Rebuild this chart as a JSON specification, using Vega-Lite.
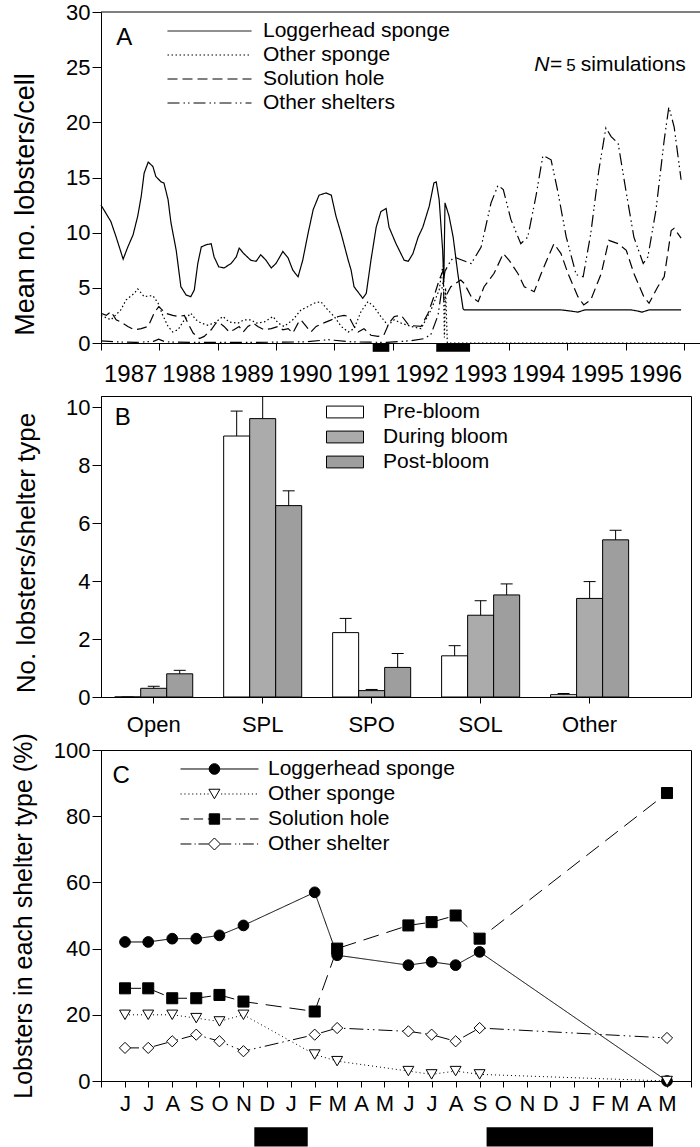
{
  "$schema": "https://vega.github.io/schema/vega-lite/v6.json",
  "background": "white",
  "padding": {"left": 10, "top": 1, "right": 0, "bottom": 0},
  "spacing": 53,
  "bounds": "flush",
  "resolve": {
    "scale": {"strokeDash": "independent", "fill": "independent", "shape": "independent", "size": "independent", "stroke": "independent"},
    "legend": {"strokeDash": "independent", "fill": "independent", "shape": "independent", "size": "independent", "stroke": "independent"}
  },
  "config": {
    "font": "Liberation Sans",
    "view": {"stroke": "black", "strokeWidth": 1},
    "axis": {
      "domainColor": "black", "domainWidth": 1, "tickColor": "black", "tickWidth": 1,
      "labelColor": "black", "titleColor": "black", "labelFont": "Liberation Sans", "titleFont": "Liberation Sans",
      "labelFontSize": 22, "titleFontWeight": "normal", "grid": false, "labelOverlap": false, "labelBound": false, "titleLimit": 1000
    },
    "legend": {"labelFont": "Liberation Sans", "labelColor": "black", "labelFontSize": 21, "labelLimit": 400, "padding": 0, "rowPadding": 0},
    "text": {"font": "Liberation Sans", "color": "black"}
  },
  "datasets": {
    "simulation": [
      {"year": 1987.00, "mean": 12.5, "shelter": "Loggerhead sponge"},
      {"year": 1987.08, "mean": 11.8, "shelter": "Loggerhead sponge"},
      {"year": 1987.17, "mean": 11.0, "shelter": "Loggerhead sponge"},
      {"year": 1987.26, "mean": 9.6, "shelter": "Loggerhead sponge"},
      {"year": 1987.38, "mean": 7.6, "shelter": "Loggerhead sponge"},
      {"year": 1987.46, "mean": 8.7, "shelter": "Loggerhead sponge"},
      {"year": 1987.55, "mean": 9.8, "shelter": "Loggerhead sponge"},
      {"year": 1987.63, "mean": 11.5, "shelter": "Loggerhead sponge"},
      {"year": 1987.69, "mean": 13.3, "shelter": "Loggerhead sponge"},
      {"year": 1987.74, "mean": 15.4, "shelter": "Loggerhead sponge"},
      {"year": 1987.81, "mean": 16.4, "shelter": "Loggerhead sponge"},
      {"year": 1987.89, "mean": 16.0, "shelter": "Loggerhead sponge"},
      {"year": 1987.94, "mean": 15.1, "shelter": "Loggerhead sponge"},
      {"year": 1988.03, "mean": 14.6, "shelter": "Loggerhead sponge"},
      {"year": 1988.08, "mean": 14.5, "shelter": "Loggerhead sponge"},
      {"year": 1988.15, "mean": 13.0, "shelter": "Loggerhead sponge"},
      {"year": 1988.20, "mean": 10.9, "shelter": "Loggerhead sponge"},
      {"year": 1988.29, "mean": 8.4, "shelter": "Loggerhead sponge"},
      {"year": 1988.37, "mean": 5.1, "shelter": "Loggerhead sponge"},
      {"year": 1988.46, "mean": 4.35, "shelter": "Loggerhead sponge"},
      {"year": 1988.54, "mean": 4.2, "shelter": "Loggerhead sponge"},
      {"year": 1988.60, "mean": 4.8, "shelter": "Loggerhead sponge"},
      {"year": 1988.66, "mean": 7.2, "shelter": "Loggerhead sponge"},
      {"year": 1988.72, "mean": 8.7, "shelter": "Loggerhead sponge"},
      {"year": 1988.80, "mean": 8.9, "shelter": "Loggerhead sponge"},
      {"year": 1988.89, "mean": 9.0, "shelter": "Loggerhead sponge"},
      {"year": 1988.94, "mean": 7.8, "shelter": "Loggerhead sponge"},
      {"year": 1989.02, "mean": 6.9, "shelter": "Loggerhead sponge"},
      {"year": 1989.11, "mean": 6.8, "shelter": "Loggerhead sponge"},
      {"year": 1989.23, "mean": 7.2, "shelter": "Loggerhead sponge"},
      {"year": 1989.32, "mean": 7.8, "shelter": "Loggerhead sponge"},
      {"year": 1989.37, "mean": 8.6, "shelter": "Loggerhead sponge"},
      {"year": 1989.45, "mean": 8.1, "shelter": "Loggerhead sponge"},
      {"year": 1989.57, "mean": 7.5, "shelter": "Loggerhead sponge"},
      {"year": 1989.66, "mean": 7.4, "shelter": "Loggerhead sponge"},
      {"year": 1989.74, "mean": 8.0, "shelter": "Loggerhead sponge"},
      {"year": 1989.83, "mean": 7.5, "shelter": "Loggerhead sponge"},
      {"year": 1989.92, "mean": 6.8, "shelter": "Loggerhead sponge"},
      {"year": 1990.00, "mean": 7.2, "shelter": "Loggerhead sponge"},
      {"year": 1990.12, "mean": 8.3, "shelter": "Loggerhead sponge"},
      {"year": 1990.21, "mean": 7.7, "shelter": "Loggerhead sponge"},
      {"year": 1990.29, "mean": 6.6, "shelter": "Loggerhead sponge"},
      {"year": 1990.38, "mean": 6.0, "shelter": "Loggerhead sponge"},
      {"year": 1990.46, "mean": 7.5, "shelter": "Loggerhead sponge"},
      {"year": 1990.55, "mean": 9.9, "shelter": "Loggerhead sponge"},
      {"year": 1990.64, "mean": 12.1, "shelter": "Loggerhead sponge"},
      {"year": 1990.74, "mean": 13.4, "shelter": "Loggerhead sponge"},
      {"year": 1990.86, "mean": 13.6, "shelter": "Loggerhead sponge"},
      {"year": 1990.95, "mean": 13.4, "shelter": "Loggerhead sponge"},
      {"year": 1991.03, "mean": 11.5, "shelter": "Loggerhead sponge"},
      {"year": 1991.12, "mean": 9.9, "shelter": "Loggerhead sponge"},
      {"year": 1991.24, "mean": 7.5, "shelter": "Loggerhead sponge"},
      {"year": 1991.29, "mean": 6.6, "shelter": "Loggerhead sponge"},
      {"year": 1991.34, "mean": 5.1, "shelter": "Loggerhead sponge"},
      {"year": 1991.49, "mean": 4.05, "shelter": "Loggerhead sponge"},
      {"year": 1991.55, "mean": 4.5, "shelter": "Loggerhead sponge"},
      {"year": 1991.63, "mean": 7.5, "shelter": "Loggerhead sponge"},
      {"year": 1991.72, "mean": 10.5, "shelter": "Loggerhead sponge"},
      {"year": 1991.80, "mean": 11.9, "shelter": "Loggerhead sponge"},
      {"year": 1991.89, "mean": 12.2, "shelter": "Loggerhead sponge"},
      {"year": 1991.94, "mean": 10.5, "shelter": "Loggerhead sponge"},
      {"year": 1992.06, "mean": 9.0, "shelter": "Loggerhead sponge"},
      {"year": 1992.20, "mean": 7.5, "shelter": "Loggerhead sponge"},
      {"year": 1992.27, "mean": 7.4, "shelter": "Loggerhead sponge"},
      {"year": 1992.35, "mean": 8.1, "shelter": "Loggerhead sponge"},
      {"year": 1992.44, "mean": 9.6, "shelter": "Loggerhead sponge"},
      {"year": 1992.52, "mean": 10.5, "shelter": "Loggerhead sponge"},
      {"year": 1992.63, "mean": 12.4, "shelter": "Loggerhead sponge"},
      {"year": 1992.71, "mean": 14.5, "shelter": "Loggerhead sponge"},
      {"year": 1992.75, "mean": 14.6, "shelter": "Loggerhead sponge"},
      {"year": 1992.80, "mean": 13.0, "shelter": "Loggerhead sponge"},
      {"year": 1992.86, "mean": 8.4, "shelter": "Loggerhead sponge"},
      {"year": 1992.88, "mean": 5.5, "shelter": "Loggerhead sponge"},
      {"year": 1992.90, "mean": 12.7, "shelter": "Loggerhead sponge"},
      {"year": 1992.97, "mean": 11.5, "shelter": "Loggerhead sponge"},
      {"year": 1993.04, "mean": 9.6, "shelter": "Loggerhead sponge"},
      {"year": 1993.12, "mean": 6.3, "shelter": "Loggerhead sponge"},
      {"year": 1993.21, "mean": 3.1, "shelter": "Loggerhead sponge"},
      {"year": 1993.23, "mean": 3.0, "shelter": "Loggerhead sponge"},
      {"year": 1993.52, "mean": 3.0, "shelter": "Loggerhead sponge"},
      {"year": 1994.20, "mean": 3.0, "shelter": "Loggerhead sponge"},
      {"year": 1994.89, "mean": 3.0, "shelter": "Loggerhead sponge"},
      {"year": 1995.05, "mean": 2.9, "shelter": "Loggerhead sponge"},
      {"year": 1995.18, "mean": 2.8, "shelter": "Loggerhead sponge"},
      {"year": 1995.30, "mean": 3.0, "shelter": "Loggerhead sponge"},
      {"year": 1995.58, "mean": 3.0, "shelter": "Loggerhead sponge"},
      {"year": 1996.09, "mean": 3.0, "shelter": "Loggerhead sponge"},
      {"year": 1996.20, "mean": 2.9, "shelter": "Loggerhead sponge"},
      {"year": 1996.28, "mean": 2.8, "shelter": "Loggerhead sponge"},
      {"year": 1996.40, "mean": 3.0, "shelter": "Loggerhead sponge"},
      {"year": 1996.95, "mean": 3.0, "shelter": "Loggerhead sponge"},

      {"year": 1987.00, "mean": 2.5, "shelter": "Other sponge"},
      {"year": 1987.17, "mean": 2.1, "shelter": "Other sponge"},
      {"year": 1987.34, "mean": 3.0, "shelter": "Other sponge"},
      {"year": 1987.43, "mean": 3.9, "shelter": "Other sponge"},
      {"year": 1987.57, "mean": 4.5, "shelter": "Other sponge"},
      {"year": 1987.63, "mean": 4.9, "shelter": "Other sponge"},
      {"year": 1987.74, "mean": 4.2, "shelter": "Other sponge"},
      {"year": 1987.89, "mean": 4.3, "shelter": "Other sponge"},
      {"year": 1987.98, "mean": 3.6, "shelter": "Other sponge"},
      {"year": 1988.06, "mean": 2.5, "shelter": "Other sponge"},
      {"year": 1988.15, "mean": 1.5, "shelter": "Other sponge"},
      {"year": 1988.23, "mean": 1.0, "shelter": "Other sponge"},
      {"year": 1988.32, "mean": 1.2, "shelter": "Other sponge"},
      {"year": 1988.43, "mean": 2.1, "shelter": "Other sponge"},
      {"year": 1988.54, "mean": 2.7, "shelter": "Other sponge"},
      {"year": 1988.63, "mean": 2.1, "shelter": "Other sponge"},
      {"year": 1988.72, "mean": 1.8, "shelter": "Other sponge"},
      {"year": 1988.84, "mean": 1.6, "shelter": "Other sponge"},
      {"year": 1988.97, "mean": 1.9, "shelter": "Other sponge"},
      {"year": 1989.09, "mean": 2.4, "shelter": "Other sponge"},
      {"year": 1989.20, "mean": 1.9, "shelter": "Other sponge"},
      {"year": 1989.35, "mean": 1.8, "shelter": "Other sponge"},
      {"year": 1989.45, "mean": 2.1, "shelter": "Other sponge"},
      {"year": 1989.57, "mean": 2.1, "shelter": "Other sponge"},
      {"year": 1989.66, "mean": 1.8, "shelter": "Other sponge"},
      {"year": 1989.80, "mean": 1.9, "shelter": "Other sponge"},
      {"year": 1989.95, "mean": 2.4, "shelter": "Other sponge"},
      {"year": 1990.04, "mean": 1.8, "shelter": "Other sponge"},
      {"year": 1990.14, "mean": 1.5, "shelter": "Other sponge"},
      {"year": 1990.29, "mean": 2.1, "shelter": "Other sponge"},
      {"year": 1990.43, "mean": 3.0, "shelter": "Other sponge"},
      {"year": 1990.55, "mean": 3.3, "shelter": "Other sponge"},
      {"year": 1990.65, "mean": 3.6, "shelter": "Other sponge"},
      {"year": 1990.77, "mean": 3.75, "shelter": "Other sponge"},
      {"year": 1990.89, "mean": 3.0, "shelter": "Other sponge"},
      {"year": 1991.00, "mean": 2.4, "shelter": "Other sponge"},
      {"year": 1991.12, "mean": 1.5, "shelter": "Other sponge"},
      {"year": 1991.24, "mean": 1.0, "shelter": "Other sponge"},
      {"year": 1991.34, "mean": 1.3, "shelter": "Other sponge"},
      {"year": 1991.46, "mean": 2.85, "shelter": "Other sponge"},
      {"year": 1991.58, "mean": 3.75, "shelter": "Other sponge"},
      {"year": 1991.68, "mean": 3.3, "shelter": "Other sponge"},
      {"year": 1991.80, "mean": 2.4, "shelter": "Other sponge"},
      {"year": 1991.92, "mean": 1.6, "shelter": "Other sponge"},
      {"year": 1992.03, "mean": 2.1, "shelter": "Other sponge"},
      {"year": 1992.15, "mean": 1.8, "shelter": "Other sponge"},
      {"year": 1992.32, "mean": 1.5, "shelter": "Other sponge"},
      {"year": 1992.49, "mean": 1.3, "shelter": "Other sponge"},
      {"year": 1992.66, "mean": 3.0, "shelter": "Other sponge"},
      {"year": 1992.80, "mean": 4.8, "shelter": "Other sponge"},
      {"year": 1992.85, "mean": 6.6, "shelter": "Other sponge"},
      {"year": 1992.87, "mean": 7.0, "shelter": "Other sponge"},
      {"year": 1992.89, "mean": 0.5, "shelter": "Other sponge"},
      {"year": 1992.91, "mean": 5.0, "shelter": "Other sponge"},
      {"year": 1992.94, "mean": 0.0, "shelter": "Other sponge"},
      {"year": 1993.20, "mean": 0.0, "shelter": "Other sponge"},
      {"year": 1996.95, "mean": 0.0, "shelter": "Other sponge"},

      {"year": 1987.00, "mean": 2.7, "shelter": "Solution hole"},
      {"year": 1987.09, "mean": 2.5, "shelter": "Solution hole"},
      {"year": 1987.17, "mean": 2.85, "shelter": "Solution hole"},
      {"year": 1987.26, "mean": 2.1, "shelter": "Solution hole"},
      {"year": 1987.34, "mean": 1.9, "shelter": "Solution hole"},
      {"year": 1987.46, "mean": 1.5, "shelter": "Solution hole"},
      {"year": 1987.57, "mean": 1.2, "shelter": "Solution hole"},
      {"year": 1987.69, "mean": 1.3, "shelter": "Solution hole"},
      {"year": 1987.81, "mean": 1.5, "shelter": "Solution hole"},
      {"year": 1987.91, "mean": 2.7, "shelter": "Solution hole"},
      {"year": 1987.99, "mean": 3.3, "shelter": "Solution hole"},
      {"year": 1988.11, "mean": 2.7, "shelter": "Solution hole"},
      {"year": 1988.23, "mean": 2.5, "shelter": "Solution hole"},
      {"year": 1988.34, "mean": 2.4, "shelter": "Solution hole"},
      {"year": 1988.43, "mean": 2.5, "shelter": "Solution hole"},
      {"year": 1988.49, "mean": 1.8, "shelter": "Solution hole"},
      {"year": 1988.58, "mean": 0.9, "shelter": "Solution hole"},
      {"year": 1988.69, "mean": 0.4, "shelter": "Solution hole"},
      {"year": 1988.77, "mean": 0.6, "shelter": "Solution hole"},
      {"year": 1988.89, "mean": 1.2, "shelter": "Solution hole"},
      {"year": 1988.97, "mean": 1.8, "shelter": "Solution hole"},
      {"year": 1989.02, "mean": 1.9, "shelter": "Solution hole"},
      {"year": 1989.11, "mean": 1.5, "shelter": "Solution hole"},
      {"year": 1989.20, "mean": 1.0, "shelter": "Solution hole"},
      {"year": 1989.28, "mean": 1.2, "shelter": "Solution hole"},
      {"year": 1989.37, "mean": 1.5, "shelter": "Solution hole"},
      {"year": 1989.44, "mean": 1.0, "shelter": "Solution hole"},
      {"year": 1989.52, "mean": 1.5, "shelter": "Solution hole"},
      {"year": 1989.61, "mean": 1.8, "shelter": "Solution hole"},
      {"year": 1989.69, "mean": 1.5, "shelter": "Solution hole"},
      {"year": 1989.80, "mean": 1.2, "shelter": "Solution hole"},
      {"year": 1989.92, "mean": 1.3, "shelter": "Solution hole"},
      {"year": 1990.04, "mean": 1.5, "shelter": "Solution hole"},
      {"year": 1990.12, "mean": 1.2, "shelter": "Solution hole"},
      {"year": 1990.21, "mean": 1.3, "shelter": "Solution hole"},
      {"year": 1990.29, "mean": 0.9, "shelter": "Solution hole"},
      {"year": 1990.38, "mean": 1.8, "shelter": "Solution hole"},
      {"year": 1990.43, "mean": 2.1, "shelter": "Solution hole"},
      {"year": 1990.52, "mean": 1.5, "shelter": "Solution hole"},
      {"year": 1990.60, "mean": 1.0, "shelter": "Solution hole"},
      {"year": 1990.69, "mean": 1.5, "shelter": "Solution hole"},
      {"year": 1990.81, "mean": 1.8, "shelter": "Solution hole"},
      {"year": 1990.95, "mean": 2.1, "shelter": "Solution hole"},
      {"year": 1991.07, "mean": 2.4, "shelter": "Solution hole"},
      {"year": 1991.17, "mean": 2.5, "shelter": "Solution hole"},
      {"year": 1991.25, "mean": 2.4, "shelter": "Solution hole"},
      {"year": 1991.34, "mean": 1.5, "shelter": "Solution hole"},
      {"year": 1991.41, "mean": 1.0, "shelter": "Solution hole"},
      {"year": 1991.51, "mean": 1.3, "shelter": "Solution hole"},
      {"year": 1991.63, "mean": 0.7, "shelter": "Solution hole"},
      {"year": 1991.75, "mean": 0.6, "shelter": "Solution hole"},
      {"year": 1991.85, "mean": 0.7, "shelter": "Solution hole"},
      {"year": 1991.94, "mean": 1.8, "shelter": "Solution hole"},
      {"year": 1992.03, "mean": 2.4, "shelter": "Solution hole"},
      {"year": 1992.15, "mean": 2.5, "shelter": "Solution hole"},
      {"year": 1992.28, "mean": 1.6, "shelter": "Solution hole"},
      {"year": 1992.49, "mean": 1.5, "shelter": "Solution hole"},
      {"year": 1992.61, "mean": 2.7, "shelter": "Solution hole"},
      {"year": 1992.71, "mean": 4.2, "shelter": "Solution hole"},
      {"year": 1992.80, "mean": 5.7, "shelter": "Solution hole"},
      {"year": 1992.87, "mean": 6.6, "shelter": "Solution hole"},
      {"year": 1992.88, "mean": 3.9, "shelter": "Solution hole"},
      {"year": 1993.00, "mean": 5.1, "shelter": "Solution hole"},
      {"year": 1993.17, "mean": 5.7, "shelter": "Solution hole"},
      {"year": 1993.23, "mean": 5.4, "shelter": "Solution hole"},
      {"year": 1993.35, "mean": 4.2, "shelter": "Solution hole"},
      {"year": 1993.47, "mean": 3.75, "shelter": "Solution hole"},
      {"year": 1993.57, "mean": 5.1, "shelter": "Solution hole"},
      {"year": 1993.74, "mean": 6.3, "shelter": "Solution hole"},
      {"year": 1993.90, "mean": 8.1, "shelter": "Solution hole"},
      {"year": 1994.00, "mean": 7.5, "shelter": "Solution hole"},
      {"year": 1994.15, "mean": 6.3, "shelter": "Solution hole"},
      {"year": 1994.26, "mean": 5.1, "shelter": "Solution hole"},
      {"year": 1994.43, "mean": 4.65, "shelter": "Solution hole"},
      {"year": 1994.55, "mean": 6.3, "shelter": "Solution hole"},
      {"year": 1994.67, "mean": 7.8, "shelter": "Solution hole"},
      {"year": 1994.77, "mean": 9.0, "shelter": "Solution hole"},
      {"year": 1994.89, "mean": 8.1, "shelter": "Solution hole"},
      {"year": 1995.01, "mean": 6.3, "shelter": "Solution hole"},
      {"year": 1995.18, "mean": 4.2, "shelter": "Solution hole"},
      {"year": 1995.28, "mean": 3.45, "shelter": "Solution hole"},
      {"year": 1995.40, "mean": 3.9, "shelter": "Solution hole"},
      {"year": 1995.58, "mean": 6.3, "shelter": "Solution hole"},
      {"year": 1995.71, "mean": 9.3, "shelter": "Solution hole"},
      {"year": 1995.87, "mean": 9.0, "shelter": "Solution hole"},
      {"year": 1996.01, "mean": 8.4, "shelter": "Solution hole"},
      {"year": 1996.14, "mean": 6.3, "shelter": "Solution hole"},
      {"year": 1996.31, "mean": 4.2, "shelter": "Solution hole"},
      {"year": 1996.40, "mean": 3.6, "shelter": "Solution hole"},
      {"year": 1996.55, "mean": 5.1, "shelter": "Solution hole"},
      {"year": 1996.66, "mean": 6.0, "shelter": "Solution hole"},
      {"year": 1996.78, "mean": 10.2, "shelter": "Solution hole"},
      {"year": 1996.83, "mean": 10.4, "shelter": "Solution hole"},
      {"year": 1996.95, "mean": 9.5, "shelter": "Solution hole"},

      {"year": 1987.00, "mean": 0.2, "shelter": "Other shelters"},
      {"year": 1987.30, "mean": 0.1, "shelter": "Other shelters"},
      {"year": 1987.60, "mean": 0.05, "shelter": "Other shelters"},
      {"year": 1987.90, "mean": 0.15, "shelter": "Other shelters"},
      {"year": 1987.99, "mean": 0.35, "shelter": "Other shelters"},
      {"year": 1988.10, "mean": 0.1, "shelter": "Other shelters"},
      {"year": 1988.60, "mean": 0.05, "shelter": "Other shelters"},
      {"year": 1989.50, "mean": 0.05, "shelter": "Other shelters"},
      {"year": 1990.50, "mean": 0.1, "shelter": "Other shelters"},
      {"year": 1990.90, "mean": 0.3, "shelter": "Other shelters"},
      {"year": 1991.00, "mean": 0.25, "shelter": "Other shelters"},
      {"year": 1991.30, "mean": 0.1, "shelter": "Other shelters"},
      {"year": 1991.90, "mean": 0.05, "shelter": "Other shelters"},
      {"year": 1992.30, "mean": 0.2, "shelter": "Other shelters"},
      {"year": 1992.55, "mean": 0.4, "shelter": "Other shelters"},
      {"year": 1992.66, "mean": 0.8, "shelter": "Other shelters"},
      {"year": 1992.78, "mean": 2.5, "shelter": "Other shelters"},
      {"year": 1992.85, "mean": 5.0, "shelter": "Other shelters"},
      {"year": 1992.90, "mean": 6.5, "shelter": "Other shelters"},
      {"year": 1992.97, "mean": 7.2, "shelter": "Other shelters"},
      {"year": 1993.05, "mean": 7.8, "shelter": "Other shelters"},
      {"year": 1993.35, "mean": 7.2, "shelter": "Other shelters"},
      {"year": 1993.52, "mean": 8.7, "shelter": "Other shelters"},
      {"year": 1993.69, "mean": 12.7, "shelter": "Other shelters"},
      {"year": 1993.81, "mean": 14.3, "shelter": "Other shelters"},
      {"year": 1993.90, "mean": 13.9, "shelter": "Other shelters"},
      {"year": 1994.03, "mean": 11.2, "shelter": "Other shelters"},
      {"year": 1994.20, "mean": 9.0, "shelter": "Other shelters"},
      {"year": 1994.32, "mean": 9.6, "shelter": "Other shelters"},
      {"year": 1994.46, "mean": 13.3, "shelter": "Other shelters"},
      {"year": 1994.58, "mean": 17.0, "shelter": "Other shelters"},
      {"year": 1994.72, "mean": 16.6, "shelter": "Other shelters"},
      {"year": 1994.84, "mean": 13.6, "shelter": "Other shelters"},
      {"year": 1994.98, "mean": 9.6, "shelter": "Other shelters"},
      {"year": 1995.15, "mean": 6.2, "shelter": "Other shelters"},
      {"year": 1995.27, "mean": 6.0, "shelter": "Other shelters"},
      {"year": 1995.40, "mean": 9.9, "shelter": "Other shelters"},
      {"year": 1995.54, "mean": 15.7, "shelter": "Other shelters"},
      {"year": 1995.66, "mean": 19.5, "shelter": "Other shelters"},
      {"year": 1995.75, "mean": 18.7, "shelter": "Other shelters"},
      {"year": 1995.87, "mean": 18.1, "shelter": "Other shelters"},
      {"year": 1996.01, "mean": 13.6, "shelter": "Other shelters"},
      {"year": 1996.14, "mean": 9.6, "shelter": "Other shelters"},
      {"year": 1996.30, "mean": 7.2, "shelter": "Other shelters"},
      {"year": 1996.38, "mean": 7.8, "shelter": "Other shelters"},
      {"year": 1996.52, "mean": 12.1, "shelter": "Other shelters"},
      {"year": 1996.66, "mean": 18.4, "shelter": "Other shelters"},
      {"year": 1996.74, "mean": 21.4, "shelter": "Other shelters"},
      {"year": 1996.83, "mean": 19.6, "shelter": "Other shelters"},
      {"year": 1996.95, "mean": 14.8, "shelter": "Other shelters"}
    ],
    "bloomA": [
      {"start": 1991.66, "end": 1991.945},
      {"start": 1992.75, "end": 1993.33}
    ],
    "shelterUse": [
      {"shelter": "Open", "period": "Pre-bloom", "mean": 0, "upper": 0},
      {"shelter": "Open", "period": "During bloom", "mean": 0.3, "upper": 0.37},
      {"shelter": "Open", "period": "Post-bloom", "mean": 0.8, "upper": 0.92},
      {"shelter": "SPL", "period": "Pre-bloom", "mean": 9.0, "upper": 9.86},
      {"shelter": "SPL", "period": "During bloom", "mean": 9.6, "upper": 10.7},
      {"shelter": "SPL", "period": "Post-bloom", "mean": 6.6, "upper": 7.11},
      {"shelter": "SPO", "period": "Pre-bloom", "mean": 2.22, "upper": 2.71},
      {"shelter": "SPO", "period": "During bloom", "mean": 0.22, "upper": 0.26},
      {"shelter": "SPO", "period": "Post-bloom", "mean": 1.02, "upper": 1.5},
      {"shelter": "SOL", "period": "Pre-bloom", "mean": 1.42, "upper": 1.77},
      {"shelter": "SOL", "period": "During bloom", "mean": 2.82, "upper": 3.32},
      {"shelter": "SOL", "period": "Post-bloom", "mean": 3.52, "upper": 3.9},
      {"shelter": "Other", "period": "Pre-bloom", "mean": 0.08, "upper": 0.12},
      {"shelter": "Other", "period": "During bloom", "mean": 3.4, "upper": 3.98},
      {"shelter": "Other", "period": "Post-bloom", "mean": 5.42, "upper": 5.75}
    ],
    "monthly": [
      {"month": "1991-06-01", "shelter": "Loggerhead sponge", "pct": 42},
      {"month": "1991-07-01", "shelter": "Loggerhead sponge", "pct": 42},
      {"month": "1991-08-01", "shelter": "Loggerhead sponge", "pct": 43},
      {"month": "1991-09-01", "shelter": "Loggerhead sponge", "pct": 43},
      {"month": "1991-10-01", "shelter": "Loggerhead sponge", "pct": 44},
      {"month": "1991-11-01", "shelter": "Loggerhead sponge", "pct": 47},
      {"month": "1992-02-01", "shelter": "Loggerhead sponge", "pct": 57},
      {"month": "1992-03-01", "shelter": "Loggerhead sponge", "pct": 38},
      {"month": "1992-06-01", "shelter": "Loggerhead sponge", "pct": 35},
      {"month": "1992-07-01", "shelter": "Loggerhead sponge", "pct": 36},
      {"month": "1992-08-01", "shelter": "Loggerhead sponge", "pct": 35},
      {"month": "1992-09-01", "shelter": "Loggerhead sponge", "pct": 39},
      {"month": "1993-05-01", "shelter": "Loggerhead sponge", "pct": 0},
      {"month": "1991-06-01", "shelter": "Other sponge", "pct": 20},
      {"month": "1991-07-01", "shelter": "Other sponge", "pct": 20},
      {"month": "1991-08-01", "shelter": "Other sponge", "pct": 20},
      {"month": "1991-09-01", "shelter": "Other sponge", "pct": 19},
      {"month": "1991-10-01", "shelter": "Other sponge", "pct": 18},
      {"month": "1991-11-01", "shelter": "Other sponge", "pct": 20},
      {"month": "1992-02-01", "shelter": "Other sponge", "pct": 8},
      {"month": "1992-03-01", "shelter": "Other sponge", "pct": 6},
      {"month": "1992-06-01", "shelter": "Other sponge", "pct": 3},
      {"month": "1992-07-01", "shelter": "Other sponge", "pct": 2},
      {"month": "1992-08-01", "shelter": "Other sponge", "pct": 3},
      {"month": "1992-09-01", "shelter": "Other sponge", "pct": 2},
      {"month": "1993-05-01", "shelter": "Other sponge", "pct": 0},
      {"month": "1991-06-01", "shelter": "Solution hole", "pct": 28},
      {"month": "1991-07-01", "shelter": "Solution hole", "pct": 28},
      {"month": "1991-08-01", "shelter": "Solution hole", "pct": 25},
      {"month": "1991-09-01", "shelter": "Solution hole", "pct": 25},
      {"month": "1991-10-01", "shelter": "Solution hole", "pct": 26},
      {"month": "1991-11-01", "shelter": "Solution hole", "pct": 24},
      {"month": "1992-02-01", "shelter": "Solution hole", "pct": 21},
      {"month": "1992-03-01", "shelter": "Solution hole", "pct": 40},
      {"month": "1992-06-01", "shelter": "Solution hole", "pct": 47},
      {"month": "1992-07-01", "shelter": "Solution hole", "pct": 48},
      {"month": "1992-08-01", "shelter": "Solution hole", "pct": 50},
      {"month": "1992-09-01", "shelter": "Solution hole", "pct": 43},
      {"month": "1993-05-01", "shelter": "Solution hole", "pct": 87},
      {"month": "1991-06-01", "shelter": "Other shelter", "pct": 10},
      {"month": "1991-07-01", "shelter": "Other shelter", "pct": 10},
      {"month": "1991-08-01", "shelter": "Other shelter", "pct": 12},
      {"month": "1991-09-01", "shelter": "Other shelter", "pct": 14},
      {"month": "1991-10-01", "shelter": "Other shelter", "pct": 12},
      {"month": "1991-11-01", "shelter": "Other shelter", "pct": 9},
      {"month": "1992-02-01", "shelter": "Other shelter", "pct": 14},
      {"month": "1992-03-01", "shelter": "Other shelter", "pct": 16},
      {"month": "1992-06-01", "shelter": "Other shelter", "pct": 15},
      {"month": "1992-07-01", "shelter": "Other shelter", "pct": 14},
      {"month": "1992-08-01", "shelter": "Other shelter", "pct": 12},
      {"month": "1992-09-01", "shelter": "Other shelter", "pct": 16},
      {"month": "1993-05-01", "shelter": "Other shelter", "pct": 13}
    ],
    "bloomC": [
      {"start": "1991-11-15", "end": "1992-01-23"},
      {"start": "1992-09-10", "end": "1993-04-13"}
    ]
  },
  "vconcat": [
    {
      "width": 599,
      "height": 331,
      "view": {"stroke": null},
      "layer": [
        {
          "data": {"name": "simulation"},
          "mark": {"type": "line", "color": "black", "strokeWidth": 1.2},
          "encoding": {
            "x": {
              "field": "year", "type": "quantitative",
              "scale": {"domain": [1987, 1997.274], "nice": false, "zero": false},
              "axis": {
                "title": null,
                "values": [1987, 1988, 1989, 1990, 1991, 1992, 1993, 1994, 1995, 1996, 1997],
                "labelExpr": "datum.value < 1997 ? format(datum.value, 'd') : ''",
                "labelOffset": 29.15, "labelFlush": false, "tickSize": 7, "labelFontSize": 24, "labelPadding": 12
              }
            },
            "y": {
              "field": "mean", "type": "quantitative",
              "scale": {"domain": [0, 30], "nice": false},
              "axis": {
                "title": "Mean no. lobsters/cell",
                "values": [0, 5, 10, 15, 20, 25, 30],
                "tickSize": 9, "labelPadding": 2,
                "titleFontSize": 27, "titleX": -68, "titleY": 192, "titleBaseline": "alphabetic"
              }
            },
            "strokeDash": {
              "field": "shelter", "type": "nominal",
              "sort": ["Loggerhead sponge", "Other sponge", "Solution hole", "Other shelters"],
              "scale": {
                "domain": ["Loggerhead sponge", "Other sponge", "Solution hole", "Other shelters"],
                "range": [[1, 0], [1.5, 2.5], [10, 5], [12, 4, 1.5, 3, 1.5, 4]]
              },
              "legend": {
                "orient": "none", "legendX": 66, "legendY": 7, "title": null,
                "symbolType": "stroke", "symbolSize": 7056, "symbolStrokeWidth": 1, "symbolStrokeColor": "black",
                "clipHeight": 24, "rowPadding": 0, "labelOffset": 11, "labelFontSize": 21, "padding": 0,
                "encode": {"symbols": {"update": {"stroke": {"value": "black"}, "strokeWidth": {"value": 1}}}}
              }
            }
          }
        },
        {
          "data": {"name": "bloomA"},
          "mark": {"type": "rect", "color": "black"},
          "encoding": {
            "x": {"field": "start", "type": "quantitative"},
            "x2": {"field": "end"},
            "y": {"datum": 0},
            "y2": {"datum": -0.8}
          }
        },
        {
          "data": {"values": [{}]},
          "mark": {"type": "rule", "color": "black", "strokeWidth": 1},
          "encoding": {"y": {"datum": 30}}
        },
        {
          "data": {"values": [{}]},
          "mark": {"type": "text", "text": "A", "fontSize": 24, "align": "left", "baseline": "alphabetic"},
          "encoding": {"x": {"datum": 1987.26}, "y": {"datum": 27.0}}
        },
        {
          "data": {"values": [{}]},
          "mark": {"type": "text", "text": "N", "fontSize": 21, "fontStyle": "italic", "align": "left", "baseline": "alphabetic"},
          "encoding": {"x": {"datum": 1994.43}, "y": {"datum": 24.66}}
        },
        {
          "data": {"values": [{}]},
          "mark": {"type": "text", "text": "=", "fontSize": 21, "align": "left", "baseline": "alphabetic"},
          "encoding": {"x": {"datum": 1994.70}, "y": {"datum": 24.66}}
        },
        {
          "data": {"values": [{}]},
          "mark": {"type": "text", "text": "5", "fontSize": 17, "align": "left", "baseline": "alphabetic"},
          "encoding": {"x": {"datum": 1994.98}, "y": {"datum": 24.66}}
        },
        {
          "data": {"values": [{}]},
          "mark": {"type": "text", "text": "simulations", "fontSize": 21, "align": "left", "baseline": "alphabetic"},
          "encoding": {"x": {"datum": 1995.23}, "y": {"datum": 24.66}}
        }
      ]
    },
    {
      "width": 590,
      "height": 301,
      "data": {"name": "shelterUse"},
      "layer": [
        {
          "mark": {"type": "bar", "stroke": "black", "strokeWidth": 1},
          "encoding": {
            "x": {
              "field": "shelter", "type": "nominal",
              "sort": ["Open", "SPL", "SPO", "SOL", "Other"],
              "scale": {"domain": ["Open", "SPL", "SPO", "SOL", "Other"], "paddingInner": 0.284, "paddingOuter": 0.349, "align": 0.18},
              "axis": {"title": null, "labelAngle": 0, "tickSize": 6, "labelPadding": 11}
            },
            "xOffset": {
              "field": "period", "type": "nominal",
              "sort": ["Pre-bloom", "During bloom", "Post-bloom"],
              "scale": {"domain": ["Pre-bloom", "During bloom", "Post-bloom"]}
            },
            "y": {
              "field": "mean", "type": "quantitative",
              "scale": {"domain": [0, 10.38], "nice": false},
              "axis": {
                "title": "No. lobsters/shelter type",
                "values": [0, 2, 4, 6, 8, 10],
                "tickSize": 9, "labelPadding": 2,
                "titleFontSize": 26, "titleX": -67, "titleY": 156.5, "titleBaseline": "alphabetic"
              }
            },
            "fill": {
              "field": "period", "type": "nominal",
              "sort": ["Pre-bloom", "During bloom", "Post-bloom"],
              "scale": {"domain": ["Pre-bloom", "During bloom", "Post-bloom"], "range": ["white", "#ababab", "#9e9e9e"]},
              "legend": {
                "orient": "none", "legendX": 225, "legendY": 3.5, "title": null,
                "symbolType": "M-1,-0.32H1V0.32H-1Z", "symbolSize": 1369,
                "symbolStrokeColor": "black", "symbolStrokeWidth": 1,
                "clipHeight": 25, "rowPadding": 0, "labelOffset": 19, "labelFontSize": 21, "padding": 0,
                "encode": {"symbols": {"update": {"stroke": {"value": "black"}, "strokeWidth": {"value": 1}, "opacity": {"value": 1}}}}
              }
            }
          }
        },
        {
          "mark": {"type": "rule", "color": "black", "strokeWidth": 1, "clip": true},
          "encoding": {
            "x": {"field": "shelter", "type": "nominal"},
            "xOffset": {"field": "period", "type": "nominal"},
            "y": {"field": "mean", "type": "quantitative"},
            "y2": {"field": "upper"}
          }
        },
        {
          "mark": {"type": "tick", "color": "black", "thickness": 1, "size": 12, "opacity": 1, "clip": true},
          "encoding": {
            "x": {"field": "shelter", "type": "nominal"},
            "xOffset": {"field": "period", "type": "nominal"},
            "y": {"field": "upper", "type": "quantitative"}
          }
        },
        {
          "data": {"values": [{}]},
          "mark": {"type": "text", "text": "B", "fontSize": 24, "align": "left", "baseline": "alphabetic"},
          "encoding": {"x": {"datum": "Open", "bandPosition": 0}, "y": {"datum": 9.38}}
        }
      ]
    },
    {
      "width": 590,
      "height": 331,
      "layer": [
        {
          "data": {"name": "bloomC"},
          "mark": {"type": "rect", "color": "black"},
          "encoding": {
            "x": {"field": "start", "type": "temporal"},
            "x2": {"field": "end"},
            "y": {"datum": -14},
            "y2": {"datum": -19.8}
          }
        },
        {
          "data": {"name": "monthly"},
          "mark": {"type": "line", "color": "black", "strokeWidth": 1},
          "encoding": {
            "x": {
              "field": "month", "type": "temporal",
              "scale": {"type": "utc", "domain": [{"year": 1991, "month": 5, "date": 1, "utc": true}, {"year": 1993, "month": 6, "date": 1, "utc": true}]},
              "axis": {
                "title": null,
                "tickCount": {"interval": "month", "step": 1},
                "labelExpr": "datum.value < utc(1991, 4, 20) || datum.value > utc(1993, 4, 20) ? '' : slice(utcFormat(datum.value, '%b'), 0, 1)",
                "labelFlush": false, "tickSize": 6, "labelPadding": 6
              }
            },
            "y": {
              "field": "pct", "type": "quantitative",
              "scale": {"domain": [0, 100], "nice": false},
              "axis": {
                "title": "Lobsters in each shelter type (%)",
                "values": [0, 20, 40, 60, 80, 100],
                "tickSize": 9, "labelPadding": 2,
                "titleFontSize": 25, "titleX": -70, "titleBaseline": "alphabetic"
              }
            },
            "strokeDash": {
              "field": "shelter", "type": "nominal",
              "scale": {
                "domain": ["Loggerhead sponge", "Other sponge", "Solution hole", "Other shelter"],
                "range": [[1, 0], [1, 3], [16, 8], [14, 4, 1.5, 4, 1.5, 4]]
              },
              "legend": null
            }
          }
        },
        {
          "data": {"name": "monthly"},
          "mark": {"type": "point", "filled": true, "stroke": "black", "strokeWidth": 1, "opacity": 1},
          "encoding": {
            "x": {"field": "month", "type": "temporal"},
            "y": {"field": "pct", "type": "quantitative"},
            "shape": {
              "field": "shelter", "type": "nominal",
              "scale": {"domain": ["Loggerhead sponge", "Other sponge", "Solution hole", "Other shelter"], "range": ["circle", "triangle-down", "square", "diamond"]},
              "legend": null
            },
            "fill": {
              "field": "shelter", "type": "nominal",
              "scale": {"domain": ["Loggerhead sponge", "Other sponge", "Solution hole", "Other shelter"], "range": ["black", "white", "black", "white"]},
              "legend": null
            },
            "size": {
              "field": "shelter", "type": "nominal",
              "scale": {"domain": ["Loggerhead sponge", "Other sponge", "Solution hole", "Other shelter"], "range": [115, 125, 110, 150]},
              "legend": null
            }
          }
        },
        {
          "data": {"name": "monthly"},
          "transform": [{"filter": "datum.pct < 0"}],
          "mark": {"type": "point", "filled": true, "strokeWidth": 1, "opacity": 1, "size": 6084},
          "encoding": {
            "x": {"field": "month", "type": "temporal"},
            "y": {"field": "pct", "type": "quantitative"},
            "shape": {
              "field": "shelter", "type": "nominal",
              "scale": {
                "domain": ["Loggerhead sponge", "Other sponge", "Solution hole", "Other shelter"],
                "range": [
                  "M-1,0H1M-0.266,0A0.136,0.136,0,1,1,0.006,0A0.136,0.136,0,1,1,-0.266,0Z",
                  "M-1,0h0.03M-0.9,0h0.03M-0.8,0h0.03M-0.7,0h0.03M-0.6,0h0.03M-0.5,0h0.03M-0.4,0h0.03M-0.31,0h0.03M0.04,0h0.03M0.13,0h0.03M0.23,0h0.03M0.33,0h0.03M0.43,0h0.03M0.53,0h0.03M0.63,0h0.03M0.73,0h0.03M0.83,0h0.03M0.93,0h0.03M-0.271,-0.122L0.011,-0.122L-0.13,0.122Z",
                  "M-1,0H-0.78M-0.66,0H-0.42M-0.3,0H-0.2M0.06,0H0.3M0.42,0H0.66M0.78,0H1M-0.263,-0.133H0.003V0.133H-0.263Z",
                  "M-1,0H-0.72M-0.64,0h0.03M-0.54,0H-0.29M0.03,0H0.3M0.4,0h0.03M0.5,0h0.03M0.6,0H0.88M0.96,0h0.03M-0.284,0L-0.13,-0.154L0.024,0L-0.13,0.154Z"
                ]
              },
              "legend": {
                "orient": "none", "legendX": 79, "legendY": 6.8, "title": null,
                "symbolSize": 6084, "symbolStrokeWidth": 1, "symbolStrokeColor": "black",
                "clipHeight": 24.4, "rowPadding": 0, "labelOffset": 9, "labelFontSize": 21, "padding": 0
              }
            },
            "fill": {
              "field": "shelter", "type": "nominal",
              "scale": {"domain": ["Loggerhead sponge", "Other sponge", "Solution hole", "Other shelter"], "range": ["black", "white", "black", "white"]},
              "legend": {
                "orient": "none", "legendX": 79, "legendY": 6.8, "title": null,
                "symbolSize": 6084, "symbolStrokeWidth": 1, "symbolStrokeColor": "black",
                "clipHeight": 24.4, "rowPadding": 0, "labelOffset": 9, "labelFontSize": 21, "padding": 0
              }
            },
            "stroke": {
              "field": "shelter", "type": "nominal",
              "scale": {"domain": ["Loggerhead sponge", "Other sponge", "Solution hole", "Other shelter"], "range": ["black", "black", "black", "black"]},
              "legend": {
                "orient": "none", "legendX": 79, "legendY": 6.8, "title": null,
                "symbolSize": 6084, "symbolStrokeWidth": 1, "symbolStrokeColor": "black",
                "clipHeight": 24.4, "rowPadding": 0, "labelOffset": 9, "labelFontSize": 21, "padding": 0
              }
            }
          }
        },
        {
          "data": {"values": [{}]},
          "mark": {"type": "text", "text": "C", "fontSize": 24, "align": "left", "baseline": "alphabetic"},
          "encoding": {"x": {"datum": {"year": 1991, "month": 5, "date": 16, "utc": true}}, "y": {"datum": 90.0}}
        }
      ],
      "resolve": {"scale": {"shape": "independent", "fill": "independent", "size": "independent", "stroke": "independent"}}
    }
  ]
}
